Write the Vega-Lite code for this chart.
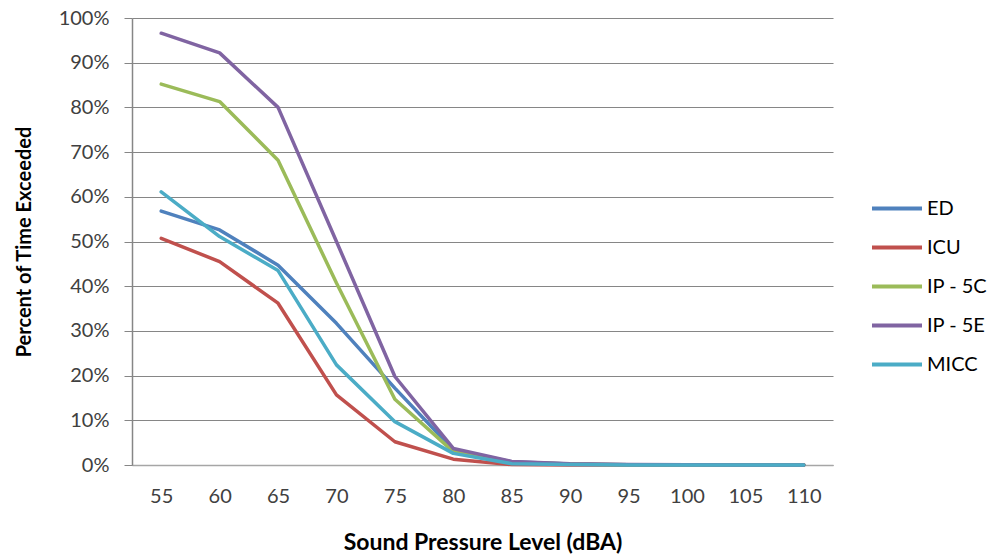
{
  "$schema": "https://vega.github.io/schema/vega-lite/v6.json",
  "width": 701,
  "height": 447,
  "autosize": {"type": "none"},
  "padding": {"left": 132, "top": 18, "right": 162, "bottom": 90},
  "background": "white",
  "config": {"view": {"stroke": null}, "font": "Lato"},
  "data": {"values": [
    {"spl": "55", "s": "ED", "v": 56.8}, {"spl": "60", "s": "ED", "v": 52.6}, {"spl": "65", "s": "ED", "v": 44.7}, {"spl": "70", "s": "ED", "v": 31.7}, {"spl": "75", "s": "ED", "v": 17.2}, {"spl": "80", "s": "ED", "v": 3.4}, {"spl": "85", "s": "ED", "v": 0.7}, {"spl": "90", "s": "ED", "v": 0.2}, {"spl": "95", "s": "ED", "v": 0.05}, {"spl": "100", "s": "ED", "v": 0}, {"spl": "105", "s": "ED", "v": 0}, {"spl": "110", "s": "ED", "v": 0},
    {"spl": "55", "s": "ICU", "v": 50.7}, {"spl": "60", "s": "ICU", "v": 45.5}, {"spl": "65", "s": "ICU", "v": 36.2}, {"spl": "70", "s": "ICU", "v": 15.7}, {"spl": "75", "s": "ICU", "v": 5.2}, {"spl": "80", "s": "ICU", "v": 1.3}, {"spl": "85", "s": "ICU", "v": 0.1}, {"spl": "90", "s": "ICU", "v": 0}, {"spl": "95", "s": "ICU", "v": 0}, {"spl": "100", "s": "ICU", "v": 0}, {"spl": "105", "s": "ICU", "v": 0}, {"spl": "110", "s": "ICU", "v": 0},
    {"spl": "55", "s": "IP - 5C", "v": 85.2}, {"spl": "60", "s": "IP - 5C", "v": 81.3}, {"spl": "65", "s": "IP - 5C", "v": 68.2}, {"spl": "70", "s": "IP - 5C", "v": 40.7}, {"spl": "75", "s": "IP - 5C", "v": 14.7}, {"spl": "80", "s": "IP - 5C", "v": 3.0}, {"spl": "85", "s": "IP - 5C", "v": 0.6}, {"spl": "90", "s": "IP - 5C", "v": 0.2}, {"spl": "95", "s": "IP - 5C", "v": 0.05}, {"spl": "100", "s": "IP - 5C", "v": 0}, {"spl": "105", "s": "IP - 5C", "v": 0}, {"spl": "110", "s": "IP - 5C", "v": 0},
    {"spl": "55", "s": "IP - 5E", "v": 96.6}, {"spl": "60", "s": "IP - 5E", "v": 92.2}, {"spl": "65", "s": "IP - 5E", "v": 80.0}, {"spl": "70", "s": "IP - 5E", "v": 50.0}, {"spl": "75", "s": "IP - 5E", "v": 19.8}, {"spl": "80", "s": "IP - 5E", "v": 3.7}, {"spl": "85", "s": "IP - 5E", "v": 0.8}, {"spl": "90", "s": "IP - 5E", "v": 0.3}, {"spl": "95", "s": "IP - 5E", "v": 0.1}, {"spl": "100", "s": "IP - 5E", "v": 0.05}, {"spl": "105", "s": "IP - 5E", "v": 0}, {"spl": "110", "s": "IP - 5E", "v": 0},
    {"spl": "55", "s": "MICC", "v": 61.1}, {"spl": "60", "s": "MICC", "v": 51.1}, {"spl": "65", "s": "MICC", "v": 43.5}, {"spl": "70", "s": "MICC", "v": 22.4}, {"spl": "75", "s": "MICC", "v": 9.7}, {"spl": "80", "s": "MICC", "v": 2.6}, {"spl": "85", "s": "MICC", "v": 0.3}, {"spl": "90", "s": "MICC", "v": 0.1}, {"spl": "95", "s": "MICC", "v": 0}, {"spl": "100", "s": "MICC", "v": 0}, {"spl": "105", "s": "MICC", "v": 0}, {"spl": "110", "s": "MICC", "v": 0}
  ]},
  "mark": {"type": "line", "strokeWidth": 3.5, "strokeCap": "round", "strokeJoin": "round"},
  "encoding": {
    "x": {
      "field": "spl", "type": "ordinal", "sort": null,
      "scale": {"type": "point", "padding": 0.5},
      "axis": {
        "title": "Sound Pressure Level (dBA)", "titleFontSize": 23, "titleFontWeight": "bold", "titleColor": "#000000", "titlePadding": 25,
        "labelAngle": 0, "labelFontSize": 20, "labelColor": "#404040", "labelPadding": 21,
        "ticks": false, "domainColor": "#a6a6a6", "domainWidth": 1.5, "grid": false
      }
    },
    "y": {
      "field": "v", "type": "quantitative",
      "scale": {"domain": [0, 100], "nice": false},
      "axis": {
        "title": "Percent of Time Exceeded", "titleFontSize": 20, "titleFontWeight": "bold", "titleColor": "#000000", "titlePadding": 24,
        "values": [0, 10, 20, 30, 40, 50, 60, 70, 80, 90, 100],
        "labelExpr": "datum.value + '%'",
        "labelFontSize": 20, "labelColor": "#404040", "labelPadding": 15,
        "tickSize": 8, "tickColor": "#868686", "domainColor": "#868686", "domainWidth": 1.5,
        "gridColor": "#868686", "gridWidth": 1.2
      }
    },
    "color": {
      "field": "s", "type": "nominal",
      "scale": {"domain": ["ED", "ICU", "IP - 5C", "IP - 5E", "MICC"], "range": ["#4F81BD", "#C0504D", "#9BBB59", "#8064A2", "#4BACC6"]},
      "legend": {
        "title": null, "orient": "none", "legendX": 738, "legendY": 171,
        "symbolType": "stroke", "symbolSize": 2500, "symbolStrokeWidth": 4,
        "clipHeight": 39,
        "labelFontSize": 20, "labelColor": "#000000", "rowPadding": 0, "labelOffset": 3
      }
    }
  }
}
